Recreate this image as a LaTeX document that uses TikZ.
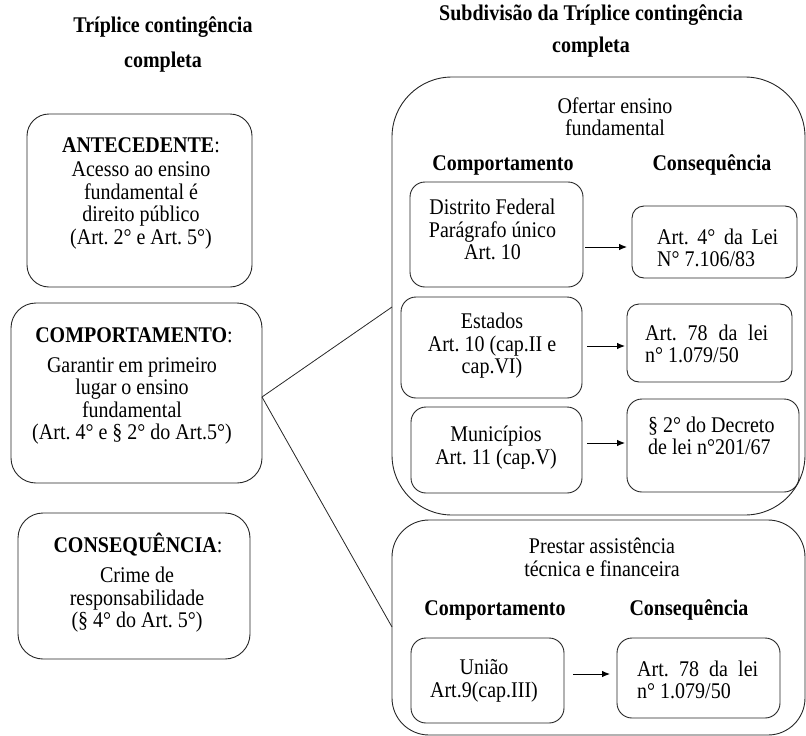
\documentclass[tikz,border=0pt]{standalone}
\usepackage{fontspec}
\setmainfont{Liberation Serif}
\usetikzlibrary{arrows.meta}
\frenchspacing
\begin{document}
\begin{tikzpicture}[x=1pt,y=-1pt,
  box/.style={draw=black!85, line width=0.9pt, rounded corners=#1, anchor=north west, inner sep=0pt, outer sep=0pt},
  txt/.style={font=\fontsize{20}{20}\selectfont\frenchspacing, align=center, inner sep=0pt, yscale=1.12},
  ltxt/.style={font=\fontsize{20}{19.5}\selectfont\frenchspacing, align=left, inner sep=0pt, anchor=west, yscale=1.12},
  ttl/.style={font=\fontsize{20}{20}\selectfont\bfseries, align=center, inner sep=0pt, yscale=1.12},
  arr/.style={-{Latex[length=8pt,width=6.5pt]}, line width=0.9pt},
  conn/.style={line width=0.8pt, draw=black!85}
]
\useasboundingbox (0,0) rectangle (806,736);

% titles
\node[ttl] (t1) at (163,44.5) {Tríplice contingência\\[11pt]completa};
\node[ttl] (t2) at (591,31) {Subdivisão da Tríplice contingência\\[8.5pt]completa};

% left column
\node[box=22, minimum width=225pt, minimum height=173pt] (ante) at (27,114) {};
\node[txt] (antet) at (141,145) {\textbf{ANTECEDENTE}:};
\node[txt] (anteb) at (141,205.5) {Acesso ao ensino\\fundamental é\\direito público\\(Art. 2° e Art. 5°)};

\node[box=25, minimum width=251pt, minimum height=180pt] (comp) at (11,303) {};
\node[txt] (compt) at (134,335) {\textbf{COMPORTAMENTO}:};
\node[txt] (compb) at (132,401) {Garantir em primeiro\\lugar o ensino\\fundamental\\(Art. 4° e § 2° do Art.5°)};

\node[box=25, minimum width=232pt, minimum height=146pt] (cons) at (18,513) {};
\node[txt] (const) at (138,545) {\textbf{CONSEQUÊNCIA}:};
\node[txt] (consb) at (137,600) {Crime de\\responsabilidade\\(§ 4° do Art. 5°)};

% big box 1
\node[box=60, minimum width=413pt, minimum height=438pt] (big1) at (392,77) {};
\node[txt] (of) at (615,116.5) {Ofertar ensino\\fundamental};
\node[txt] (h1a) at (503,165) {\textbf{Comportamento}};
\node[txt] (h1b) at (712,165) {\textbf{Consequência}};

\node[box=15, minimum width=173pt, minimum height=105pt] (df) at (410,182) {};
\node[txt] (dft) at (492.5,229.5) {Distrito Federal\\Parágrafo único\\Art. 10};
\node[box=12, minimum width=165pt, minimum height=72pt] (c1) at (632,206) {};
\node[ltxt] (c1t) at (657,248) {\makebox[121pt][s]{Art. 4° da Lei}\\N° 7.106/83};

\node[box=15, minimum width=181pt, minimum height=101pt] (est) at (401,297) {};
\node[txt] (estt) at (492,346) {Estados\\Art. 10 (cap.II e\\cap.VI)};
\node[box=12, minimum width=165pt, minimum height=78pt] (c2) at (627,304) {};
\node[ltxt] (c2t) at (645,343.5) {\makebox[123pt][s]{Art. 78 da lei}\\n° 1.079/50};

\node[box=15, minimum width=171pt, minimum height=86pt] (mun) at (411,407) {};
\node[txt] (munt) at (496,447.5) {Municípios\\Art. 11 (cap.V)};
\node[box=15, minimum width=172pt, minimum height=93pt] (c3) at (627,399) {};
\node[ltxt] (c3t) at (648,436) {§ 2° do Decreto\\de lei n°201/67};

% big box 2
\node[box=37, minimum width=413pt, minimum height=215pt] (big2) at (392,520) {};
\node[txt] (pr) at (602,557.5) {Prestar assistência\\técnica e financeira};
\node[txt] (h2a) at (495,610) {\textbf{Comportamento}};
\node[txt] (h2b) at (689,610) {\textbf{Consequência}};

\node[box=15, minimum width=153pt, minimum height=85pt] (uni) at (411,638) {};
\node[txt] (unit) at (484,681) {União\\Art.9(cap.III)};
\node[box=15, minimum width=163pt, minimum height=80pt] (c4) at (617,638) {};
\node[ltxt] (c4t) at (637,680) {\makebox[121pt][s]{Art. 78 da lei}\\n° 1.079/50};

% arrows
\draw[arr, shorten <=2pt, shorten >=5pt] (df.east |- 0,247) -- (c1.west |- 0,247);
\draw[arr, shorten <=5pt, shorten >=2pt] (est.east |- 0,346) -- (c2.west |- 0,346);
\draw[arr, shorten <=5pt, shorten >=2pt] (mun.east |- 0,443) -- (c3.west |- 0,443);
\draw[arr, shorten <=9pt, shorten >=7pt] (uni.east |- 0,674) -- (c4.west |- 0,674);

% connectors
\coordinate (cstart) at (comp.east |- 0,397);
\draw[conn] (cstart) -- (big1.west |- 0,307);
\draw[conn] (cstart) -- (big2.west |- 0,627);
\end{tikzpicture}
\end{document}
